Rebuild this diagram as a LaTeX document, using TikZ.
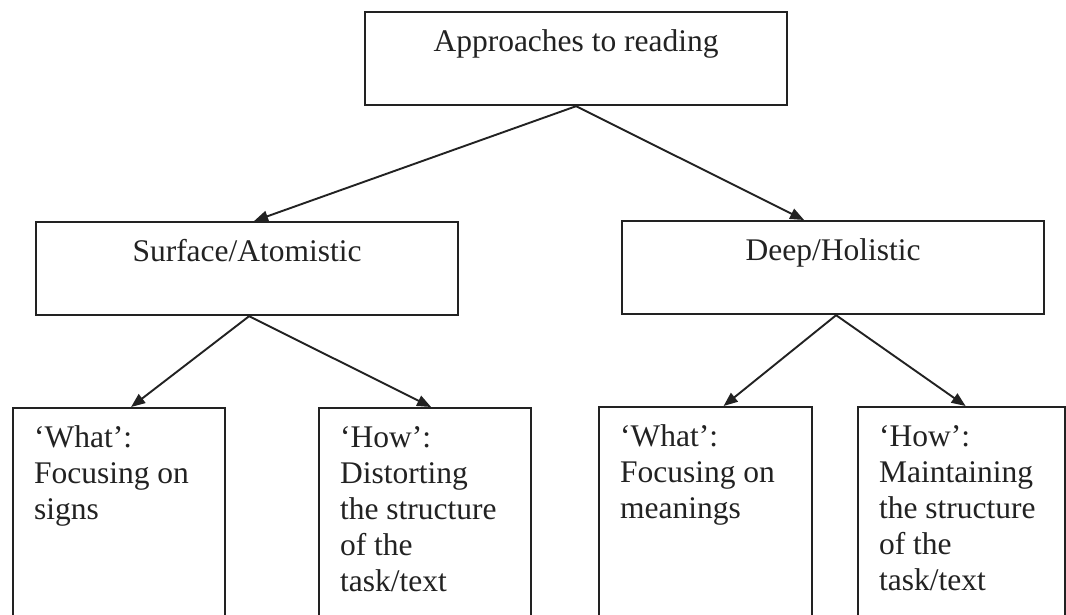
\documentclass[tikz,border=0pt]{standalone}
\usepackage{fontspec}
\setmainfont{Liberation Serif}
\usetikzlibrary{arrows.meta}
\definecolor{ink}{HTML}{222222}
\tikzset{
  box/.style={draw=ink, line width=2.2pt, rectangle, inner xsep=0pt, inner ysep=0pt,
    text height=39pt, text depth=54pt, align=center, text=ink,
    font=\fontsize{31.5}{36}\selectfont, anchor=north west},
  leaf/.style={draw=ink, line width=2.2pt, rectangle, inner xsep=21pt, inner ysep=0pt,
    text height=39pt, text depth=190pt, text=ink,
    font=\fontsize{31.5}{36}\selectfont, anchor=north west},
  arr/.style={draw=ink, line width=1.9pt, -{Triangle[length=14pt,width=11pt]}}
}
\newcommand{\leaftext}[2]{\parbox[t]{#1}{\raggedright #2}}
\begin{document}
\begin{tikzpicture}[x=1pt,y=-1pt]
\clip (0,0) rectangle (1066,614);
\fill[white] (0,0) rectangle (1066,614);
\node[box, minimum width=422pt] (top) at (364,11) {Approaches to reading};
\node[box, minimum width=422pt] (surf) at (35,221) {Surface/Atomistic};
\node[box, minimum width=422pt] (deep) at (621,220) {Deep/Holistic};
\node[leaf] (b1) at (12,407) {\leaftext{170pt}{`What':\\Focusing on\\signs}};
\node[leaf] (b2) at (318,407) {\leaftext{170pt}{`How':\\Distorting\\the structure\\of the\\task/text}};
\node[leaf] (b3) at (598,406) {\leaftext{171pt}{`What':\\Focusing on\\meanings}};
\node[leaf] (b4) at (857,406) {\leaftext{165pt}{`How':\\Maintaining\\the structure\\of the\\task/text}};
\draw[arr] (top.south) -- ([xshift=7pt]surf.north);
\draw[arr] (top.south) -- ([xshift=-29pt]deep.north);
\draw[arr] ([xshift=2pt]surf.south) -- ([xshift=12pt]b1.north);
\draw[arr] ([xshift=2pt]surf.south) -- ([xshift=6pt]b2.north);
\draw[arr] ([xshift=3pt]deep.south) -- ([xshift=18pt]b3.north);
\draw[arr] ([xshift=3pt]deep.south) -- ([xshift=4pt]b4.north);
\end{tikzpicture}
\end{document}
